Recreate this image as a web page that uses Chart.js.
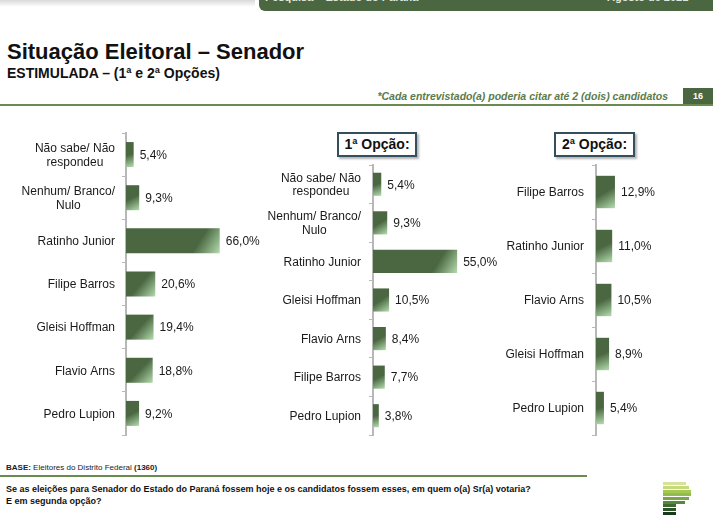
<!DOCTYPE html>
<html><head><meta charset="utf-8">
<script src="https://cdn.jsdelivr.net/npm/chart.js@4.4.0/dist/chart.umd.min.js"></script>
<style>
html,body{margin:0;padding:0;background:#fff;width:713px;height:522px;overflow:hidden;position:relative;font-family:"Liberation Sans",Arial,sans-serif;color:#1a1a1a}
.abs{position:absolute;white-space:nowrap;line-height:1}
canvas{position:absolute}
.box{position:absolute;box-sizing:border-box;border:2px solid #34505e;box-shadow:2px 2px 2px rgba(0,0,0,0.3);background:#fff;font-weight:bold;font-size:14px;text-align:center;line-height:21px;color:#111}
.stripe{position:absolute;left:663px;height:3px}
</style></head><body>
<div class="abs" style="left:0;top:0;width:255px;height:7px;background:linear-gradient(to bottom,#d9d9d9,#ffffff)"></div>
<div class="abs" style="left:259px;top:-6px;width:470px;height:17px;background:#4a6741;border-radius:6px"></div>
<div class="abs" style="left:265px;top:-8px;font-size:11px;font-weight:bold;color:#dfe6dc">Pesquisa – Estado do Paraná</div>
<div class="abs" style="left:607px;top:-8px;font-size:11px;font-weight:bold;color:#dfe6dc">Agosto de 2021</div>

<div class="abs" style="left:7px;top:41px;font-size:22px;font-weight:bold;color:#111">Situação Eleitoral – Senador</div>
<div class="abs" style="left:7px;top:66px;font-size:14px;font-weight:bold;color:#111">ESTIMULADA – (1ª e 2ª Opções)</div>
<div class="abs" style="right:45px;top:91px;font-size:10.5px;font-weight:bold;font-style:italic;color:#5b7b4c">*Cada entrevistado(a) poderia citar até 2 (dois) candidatos</div>
<div class="abs" style="left:683px;top:88px;width:30px;height:17px;background:#4a6741;color:#fff;font-size:9px;font-weight:bold;text-align:center;line-height:17px">16</div>
<div class="abs" style="left:0;top:104px;width:713px;height:2px;background:#6b8c50"></div>

<div class="box" style="left:337px;top:132px;width:80px;height:25px">1ª Opção:</div>
<div class="box" style="left:554px;top:132px;width:81px;height:25px">2ª Opção:</div>

<canvas id="c1" width="268" height="306" style="left:0;top:131px"></canvas>
<canvas id="c2" width="266" height="274" style="left:260px;top:163px"></canvas>
<canvas id="c3" width="273" height="274" style="left:470px;top:163px"></canvas>

<div class="abs" style="left:6px;top:464px;font-size:8px;color:#222"><b>BASE:</b> Eleitores do Distrito Federal <b>(1360)</b></div>
<div class="abs" style="left:0;top:475px;width:587px;height:2px;background:#6b8c50"></div>
<div class="abs" style="left:6px;top:483px;font-size:9px;font-weight:bold;line-height:12px;color:#111">Se as eleições para Senador do Estado do Paraná fossem hoje e os candidatos fossem esses, em quem o(a) Sr(a) votaria?<br>E em segunda opção?</div>

<div class="stripe" style="top:482px;width:23px;background:#d6e29a"></div>
<div class="stripe" style="top:486px;width:26px;background:#c4d977"></div>
<div class="stripe" style="top:489.5px;width:28px;background:#a4c955"></div>
<div class="stripe" style="top:493px;width:28px;background:#92bd4e"></div>
<div class="stripe" style="top:497px;width:26px;background:#78a845"></div>
<div class="stripe" style="top:500.5px;width:22px;background:#55893e"></div>
<div class="stripe" style="top:504px;width:13px;background:#3f6832"></div>
<div class="stripe" style="top:508px;width:13px;background:#2a5327"></div>
<div class="stripe" style="top:511.5px;width:13px;background:#163a1b"></div>

<script>
const categories1 = [["Não sabe/ Não","respondeu"],["Nenhum/ Branco/","Nulo"],"Ratinho Junior","Filipe Barros","Gleisi Hoffman","Flavio Arns","Pedro Lupion"];
const values1 = [5.4, 9.3, 66.0, 20.6, 19.4, 18.8, 9.2];
const categories2 = [["Não sabe/ Não","respondeu"],["Nenhum/ Branco/","Nulo"],"Ratinho Junior","Gleisi Hoffman","Flavio Arns","Filipe Barros","Pedro Lupion"];
const values2 = [5.4, 9.3, 55.0, 10.5, 8.4, 7.7, 3.8];
const categories3 = ["Filipe Barros","Ratinho Junior","Flavio Arns","Gleisi Hoffman","Pedro Lupion"];
const values3 = [12.9, 11.0, 10.5, 8.9, 5.4];
const axisMax = 100;

const FONT = '"Liberation Sans", Arial, sans-serif';
Chart.defaults.font.family = FONT;
Chart.defaults.font.size = 12;
Chart.defaults.color = '#1a1a1a';

const DARK = '#4a6741', LIGHT = '#b4dcae';

const gradientPlugin = {
  id: 'barGradient',
  beforeDatasetsDraw(chart) {
    const ctx = chart.ctx;
    chart.getDatasetMeta(0).data.forEach(el => {
      const p = el.getProps(['x','y','base','height'], true);
      const top = p.y - p.height/2, bottom = p.y + p.height/2;
      const w = p.x - p.base;
      const span = Math.min(w, p.height*1.6);
      const g = ctx.createLinearGradient(p.x - span, top, p.x, bottom);
      g.addColorStop(0, DARK); g.addColorStop(0.5, DARK); g.addColorStop(1, LIGHT);
      el.options = Object.assign({}, el.options, {backgroundColor: g});
    });
  }
};

const valueLabelPlugin = {
  id: 'valueLabels',
  afterDatasetsDraw(chart) {
    const ctx = chart.ctx, ds = chart.data.datasets[0];
    ctx.save();
    ctx.font = '12px ' + FONT; ctx.fillStyle = '#1a1a1a';
    ctx.textBaseline = 'middle'; ctx.textAlign = 'left';
    chart.getDatasetMeta(0).data.forEach((el, i) => {
      ctx.fillText(ds.data[i].toFixed(1).replace('.', ',') + '%', el.x + 6, el.y + 1);
    });
    ctx.restore();
  }
};

const tickLabelPlugin = {
  id: 'tickLabels',
  afterDraw(chart, args, opts) {
    const s = chart.scales.y, ctx = chart.ctx;
    const right = s.right - s.options.grid.tickLength - opts.gap;
    const lh = 13.8;
    ctx.save();
    ctx.font = '12px ' + FONT; ctx.fillStyle = '#1a1a1a';
    ctx.textBaseline = 'middle'; ctx.textAlign = 'center';
    chart.data.labels.forEach((lab, i) => {
      const lines = Array.isArray(lab) ? lab : [lab];
      const widest = Math.max(...lines.map(l => ctx.measureText(l).width));
      const cx = right - widest/2;
      const y0 = s.getPixelForTick(i) - (lines.length - 1) * lh / 2 + 1;
      lines.forEach((l, k) => ctx.fillText(l, cx, y0 + k*lh));
    });
    ctx.restore();
  }
};

function makeChart(id, labels, values, yWidth, gap, barPct) {
  return new Chart(document.getElementById(id), {
    type: 'bar',
    data: { labels: labels, datasets: [{ data: values, backgroundColor: DARK, borderWidth: 0, barPercentage: barPct, categoryPercentage: 1 }] },
    options: {
      indexAxis: 'y', responsive: false, animation: false, events: [],
      layout: { padding: { top: 2, bottom: 2, left: 0, right: 0 } },
      plugins: { legend: { display: false }, tooltip: { enabled: false }, tickLabels: { gap: gap } },
      scales: {
        x: { display: false, min: 0, max: axisMax },
        y: {
          grid: { display: true, drawOnChartArea: false, drawTicks: true, tickLength: 4, color: '#b8b8b8', lineWidth: 1 },
          border: { display: true, color: '#b8b8b8', width: 2 },
          ticks: { color: 'rgba(0,0,0,0)', padding: 0, font: { size: 1, lineHeight: 1 }, autoSkip: false },
          afterFit(s) { s.width = yWidth; }
        }
      }
    },
    plugins: [gradientPlugin, valueLabelPlugin, tickLabelPlugin]
  });
}

makeChart('c1', categories1, values1, 126, 7, 0.58);
makeChart('c2', categories2, values2, 113, 8, 0.6);
makeChart('c3', categories3, values3, 126, 8, 0.6);
</script>
</body></html>
